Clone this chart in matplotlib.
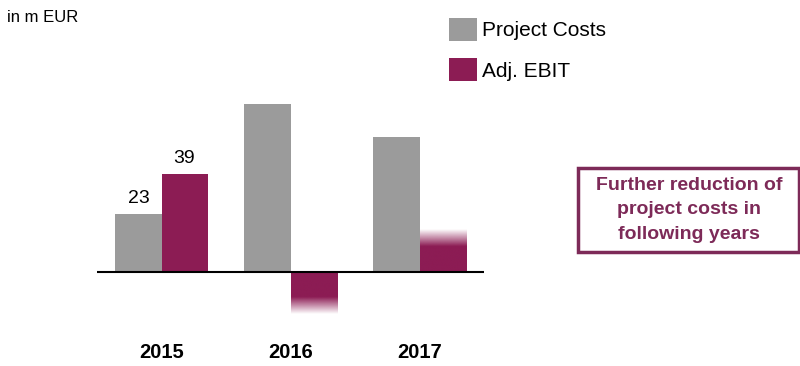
import numpy as np
import matplotlib
matplotlib.use("Agg")
import matplotlib.pyplot as plt
from matplotlib.colors import to_rgb

# ----- Data -----
years = ["2015", "2016", "2017"]
project_costs = [23, 67, 54]
adj_ebit = [39, -17, 17]
ebit_faded = [False, True, True]      # bars shown with a fading end
cost_labels = ["23", "", ""]
ebit_labels = ["39", "", ""]

GREY = "#9b9b9b"
MAROON = "#8c1c54"
BOX_MAROON = "#7d2a58"

plt.rcParams["font.family"] = ["Liberation Sans", "DejaVu Sans"]

fig = plt.figure(figsize=(8, 3.66), dpi=100)
ax = fig.add_axes([97 / 800, 0.0527, 387 / 800, 0.888])
ax.set_xlim(-0.5, 2.5)
ax.set_ylim(-30, 100)
ax.axis("off")

x = np.arange(len(years))
w = 0.357
bars_c = ax.bar(x - w / 2, project_costs, w, color=GREY, label="Project Costs")
bars_e = ax.bar(x + w / 2, adj_ebit, w, color=MAROON, label="Adj. EBIT")

# fading ends on the hidden values
rgb = to_rgb(MAROON)
for patch, fade in zip(bars_e, ebit_faded):
    if not fade:
        continue
    patch.set_visible(False)
    x0, y0 = patch.get_x(), patch.get_y()
    x1, y1 = x0 + patch.get_width(), y0 + patch.get_height()
    t = np.linspace(0, 1, 200)
    alpha = np.clip((1 - t) / 0.4, 0, 1)
    img = np.zeros((200, 1, 4))
    img[:, 0, :3] = rgb
    img[:, 0, 3] = alpha
    if y1 >= y0:
        extent = [x0, x1, y0, y1]
    else:
        extent = [x0, x1, y1, y0]
        img = img[::-1]
    ax.imshow(img, extent=extent, origin="lower", aspect="auto",
              interpolation="bilinear", zorder=2)
ax.set_xlim(-0.5, 2.5)
ax.set_ylim(-30, 100)

ax.axhline(0, color="black", lw=1.5, zorder=3)

for bars, labels in [(bars_c, cost_labels), (bars_e, ebit_labels)]:
    for b, lab in zip(bars, labels):
        if lab:
            ax.annotate(lab, (b.get_x() + b.get_width() / 2, b.get_height()),
                        xytext=(0, 5.5), textcoords="offset points",
                        ha="center", va="bottom", fontsize=14)

for xi, yr in zip(x, years):
    ax.annotate(yr, (xi, 1 - 353 / 366), xycoords=("data", "figure fraction"),
                ha="center", va="center", fontsize=14.5, fontweight="bold")

fig.text(7 / 800, 1 - 17 / 366, "in m EUR", fontsize=12, va="center", ha="left")

fig.legend(handles=[bars_c, bars_e], loc="upper left",
           bbox_to_anchor=(449 / 800, 1 - 18 / 366), frameon=False,
           fontsize=15, borderpad=0, handlelength=1.35, handleheight=1.3,
           handletextpad=0.25, labelspacing=0.85, borderaxespad=0)

fig.text(689 / 800, 1 - 210 / 366,
         "Further reduction of\nproject costs in\nfollowing years",
         ha="center", va="center", fontsize=14, fontweight="bold",
         color=BOX_MAROON, linespacing=1.6)
frame = plt.Rectangle((578 / 800, 1 - 252 / 366), 221 / 800, 84 / 366,
                      transform=fig.transFigure, fill=False,
                      edgecolor=BOX_MAROON, lw=2.5)
fig.add_artist(frame)

fig.savefig("out.png", dpi=100)
